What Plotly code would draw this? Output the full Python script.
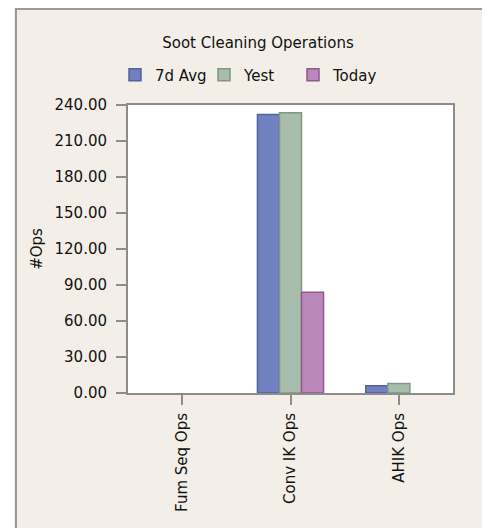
import plotly.graph_objects as go

categories = ["Fum Seq Ops", "Conv IK Ops", "AHIK Ops"]
avg7d = [0, 232, 6]
yest = [0, 233.5, 8]
today = [0, 84, 0]
series_names = ["7d Avg", "Yest", "Today"]
y_ticks = [0, 30, 60, 90, 120, 150, 180, 210, 240]

# page has an 8px body margin: figure coords = reference coords - 8
W, H = 482, 520
L, R, T, B = 120, 445, 97, 385

def px_x(p):
    return (p - L) / (R - L)

def px_y(p):
    return (B - p) / (B - T)

fills = ["#7080c0", "#a8bdac", "#bb88bb"]
lines = ["#56609c", "#7f9783", "#8e5a8e"]

# feed points largest-first so the legend swatch takes a visible outline;
# axis order is fixed by categoryarray
order = [1, 2, 0]

fig = go.Figure()
for name, vals, fc, lc in zip(series_names, [avg7d, yest, today], fills, lines):
    xs = [categories[i] for i in order]
    ys = [vals[i] for i in order]
    fig.add_trace(go.Bar(x=xs, y=ys, name=name,
                         marker=dict(color=fc,
                                     line=dict(color=lc, width=[1.5 if v else 0 for v in ys]))))

font = "DejaVu Sans"
bg = "#f3efe8"
shapes = [
    dict(type="rect", xref="paper", yref="paper", x0=px_x(-5), x1=px_x(6), y0=px_y(530), y1=px_y(-5),
         fillcolor="white", line=dict(width=0), layer="above"),
    dict(type="line", xref="paper", yref="paper", x0=px_x(7), x1=px_x(500), y0=px_y(1), y1=px_y(1),
         line=dict(color="#9a9a9a", width=2), layer="above"),
    dict(type="line", xref="paper", yref="paper", x0=px_x(8), x1=px_x(8), y0=px_y(0), y1=px_y(530),
         line=dict(color="#9a9a9a", width=2), layer="above"),
]

fig.update_layout(
    width=W, height=H,
    margin=dict(l=L, r=W - R, t=T, b=H - B, autoexpand=False),
    paper_bgcolor=bg, plot_bgcolor="white",
    font=dict(family=font, size=14, color="#111"),
    title=dict(text="Soot Cleaning Operations", x=250 / W, xanchor="center",
               y=1 - 35 / H, yanchor="middle", font=dict(size=15, color="#111")),
    barmode="group", bargap=0.39, bargroupgap=0,
    showlegend=True,
    legend=dict(orientation="h", x=px_x(107), xanchor="left", y=px_y(67), yanchor="middle",
                bgcolor="rgba(0,0,0,0)", font=dict(size=15), traceorder="normal",
                entrywidth=44, entrywidthmode="pixels"),
    shapes=shapes,
)
fig.update_xaxes(categoryorder="array", categoryarray=categories,
                 showline=True, linecolor="#8c8c8c", linewidth=2, mirror=True,
                 ticks="outside", ticklen=10, tickcolor="#8c8c8c", tickwidth=2,
                 tickangle=-90, tickfont=dict(size=15), showgrid=False,
                 ticklabelstandoff=2)
fig.update_yaxes(range=[0, 240], tickvals=y_ticks, tickformat=".2f",
                 showline=True, linecolor="#8c8c8c", linewidth=2, mirror=True,
                 ticks="outside", ticklen=10, tickcolor="#8c8c8c", tickwidth=2,
                 showgrid=False, zeroline=False, tickfont=dict(size=15),
                 ticklabelstandoff=6,
                 title=dict(text="#Ops", font=dict(size=15), standoff=8))

fig.write_html("out.html")
